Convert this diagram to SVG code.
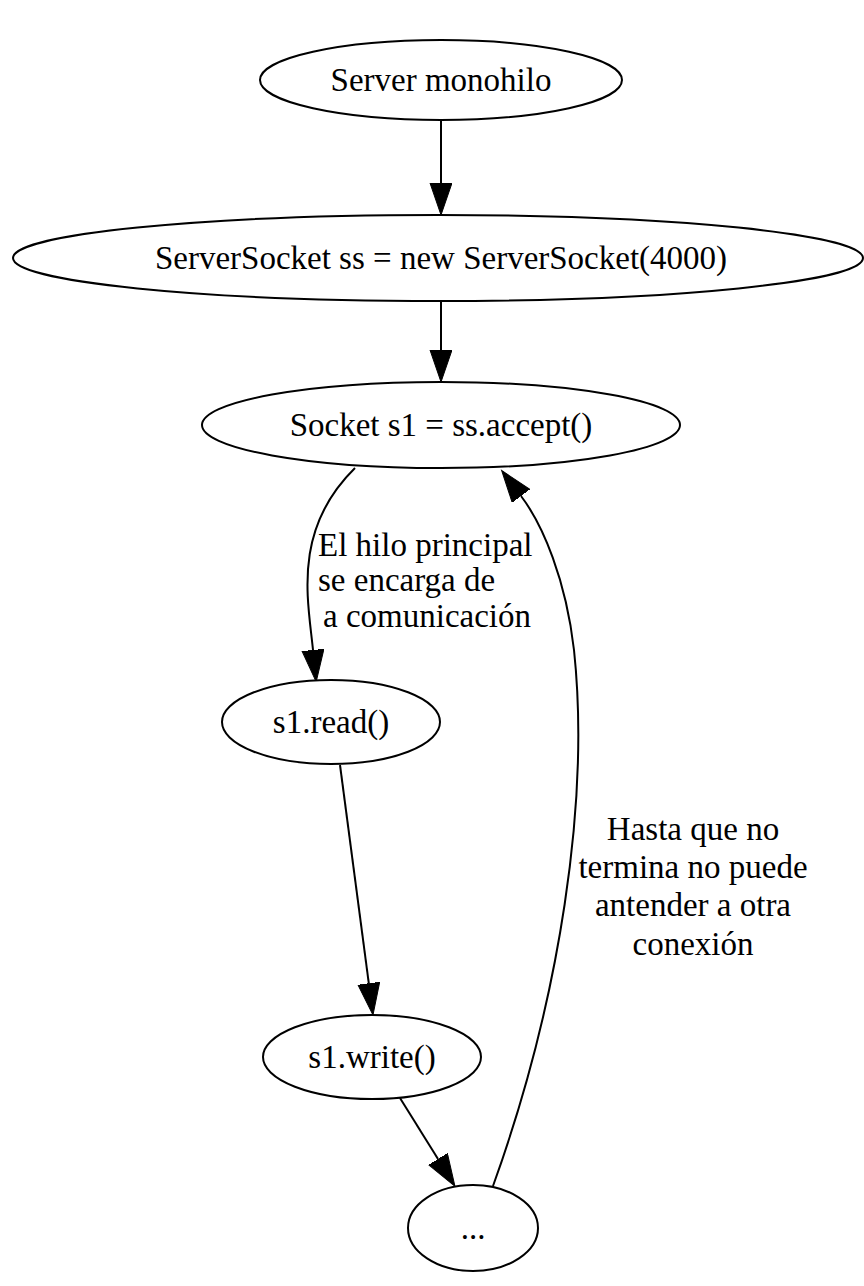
<svg xmlns="http://www.w3.org/2000/svg" width="864" height="1286" viewBox="0 0 864 1286">
<style>
.n ellipse{fill:#fff;stroke:#000;stroke-width:2}
text{font-family:"Liberation Serif","Times New Roman",serif;font-size:33px;fill:#000}
.c{text-anchor:middle}
.e path{fill:none;stroke:#000;stroke-width:2}
</style>
<defs>
<marker id="ah" markerUnits="userSpaceOnUse" markerWidth="34" markerHeight="24" refX="0" refY="11" orient="auto" viewBox="0 0 34 24">
<path d="M0,0 L32,11 L0,22 z" fill="#000" stroke="#000" stroke-width="1"/>
</marker>
</defs>
<rect width="864" height="1286" fill="#fff"/>
<g class="e" id="connectors">
<path d="M441,120 L441,183" marker-end="url(#ah)"/>
<path d="M441,300 L441,350" marker-end="url(#ah)"/>
<path d="M355,468 C292,530 308,600 313,650" marker-end="url(#ah)"/>
<path d="M340,765 L368.8,983.3" marker-end="url(#ah)"/>
<path d="M400,1098 L438,1159" marker-end="url(#ah)"/>
<path d="M493,1186 C560,1000 590,800 574,650 C566,580 543,525 521,496" marker-end="url(#ah)"/>
<text x="318" y="556">El hilo principal</text>
<text x="318" y="591">se encarga de</text>
<text x="323" y="627">a comunicación</text>
<text class="c" x="693" y="840">Hasta que no</text>
<text class="c" x="693" y="878">termina no puede</text>
<text class="c" x="693" y="916">antender a otra</text>
<text class="c" x="693" y="955">conexión</text>
</g>
<g class="n" id="n1"><ellipse cx="441" cy="80" rx="181" ry="40"/><text class="c" x="441" y="91">Server monohilo</text></g>
<g class="n" id="n2"><ellipse cx="438" cy="258" rx="425" ry="43"/><text class="c" x="441" y="269">ServerSocket ss = new ServerSocket(4000)</text></g>
<g class="n" id="n3"><ellipse cx="441" cy="425" rx="239" ry="43"/><text class="c" x="441" y="436">Socket s1 = ss.accept()</text></g>
<g class="n" id="n4"><ellipse cx="331" cy="722" rx="109" ry="42"/><text class="c" x="331" y="733">s1.read()</text></g>
<g class="n" id="n5"><ellipse cx="372" cy="1057" rx="109" ry="42"/><text class="c" x="372" y="1068">s1.write()</text></g>
<g class="n" id="n6"><ellipse cx="473" cy="1228" rx="65" ry="43"/><text class="c" x="473" y="1239">...</text></g>
</svg>
